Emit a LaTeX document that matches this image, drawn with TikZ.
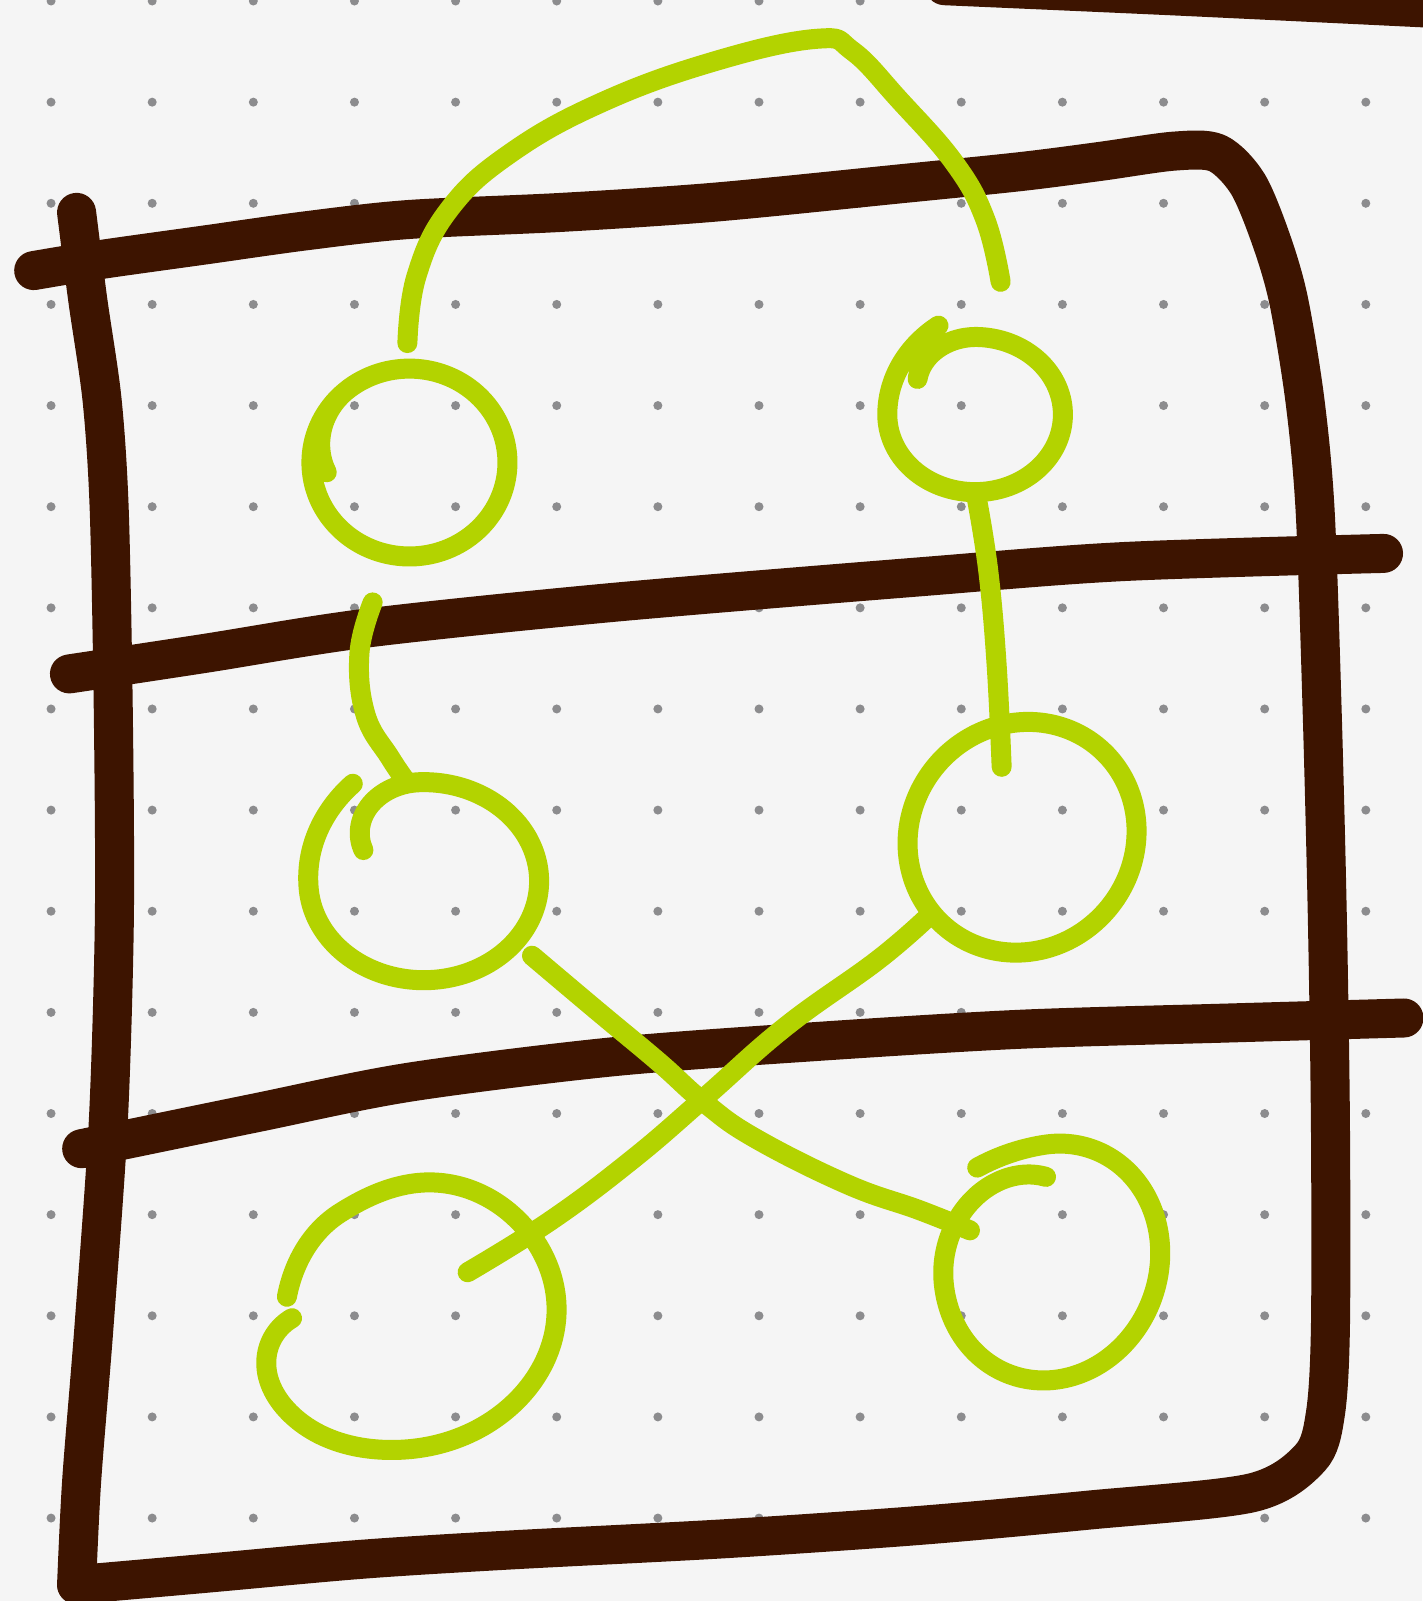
\documentclass[tikz,border=0pt]{standalone}
\usetikzlibrary{calc,hobby}
\definecolor{bgc}{HTML}{F5F5F5}
\definecolor{dotc}{HTML}{8C8C8E}
\definecolor{brn}{HTML}{3D1400}
\definecolor{grn}{HTML}{B3D300}
\tikzset{
  frame/.style={draw=brn, line width=39pt, line cap=round, line join=round},
  link/.style={draw=grn, line width=20pt, line cap=round, line join=round},
  ring/.style={draw=grn, line width=20pt, line cap=round, line join=round, smooth, variable=\t, samples=120}
}
\begin{document}
\begin{tikzpicture}[x=1.0208pt, y=-1.0208pt,
  declare function={
    sq(\x)=(max(0,min(1,\x)))^2;
    fa(\t)=1-0.15*sq((232-\t)/59);
    fb(\t)=1+0.22*sq((\t-180)/70)-0.2*sq((-88-\t)/57);
    fc(\t)=1-0.39*sq((268-\t)/57)+0.16*sq((\t-535)/63);
    ff(\t)=1+0.09*sq((262-\t)/35)-0.27*sq((\t-530)/90);
  }]
\fill[bgc] (0,0) rectangle (1393,1568);
\useasboundingbox (0,0) rectangle (1393,1568);
% dot grid
\foreach \i in {0,...,13}{
  \foreach \j in {0,...,15}{
    \fill[dotc] ({50+99.05*\i},{1+99.05*\j}) circle[radius=4.5pt];
  }
}
% brown frame
\draw[frame] plot[smooth, tension=0.5] coordinates {(925,-14) (1150,-4) (1400,8)};
\draw[frame] plot[smooth, tension=0.5] coordinates {
  (33,265) (100,254) (200,240) (300,226) (400,215) (550,208) (700,198)
  (882,180) (1000,168) (1078,158) (1150,148) (1192,150) (1222,180)
  (1245,235) (1262,294) (1278,392) (1288,500) (1295,700) (1300,900)
  (1303,1100) (1303,1300) (1298,1385) (1283,1428) (1226,1462)
  (1066,1479) (900,1494) (710,1507) (500,1518) (356,1527) (200,1541) (75,1552)};
\draw[frame] plot[smooth, tension=0.5] coordinates {
  (75,1552) (80,1450) (92,1300) (106,1100) (112,900) (111,700)
  (107,500) (100,392) (86,294) (75,208)};
\draw[frame] plot[smooth, tension=0.5] coordinates {
  (68,660) (200,640) (360,615) (600,590) (900,565) (1100,550) (1355,542)};
\draw[frame] plot[smooth, tension=0.5] coordinates {
  (80,1125) (250,1090) (400,1060) (600,1035) (800,1020) (1000,1008) (1200,1002) (1375,997)};
% green connectors
\draw[link] plot[smooth, tension=0.7] coordinates {
  (399,336) (408,270) (440,205) (500,150) (590,100) (700,60) (800,38)
  (835,50) (880,97) (935,160) (965,215) (980,276)};
\draw[link] plot[smooth, tension=0.7] coordinates {
  (365,590) (352,640) (358,700) (382,742) (399,767)};
\draw[link] plot[smooth, tension=0.7] coordinates {
  (957,490) (968,560) (976,650) (981,751)};
\draw[link] plot[smooth, tension=0.7] coordinates {
  (521,936) (585,990) (645,1040) (690,1080) (740,1115) (830,1160) (900,1185) (950,1205)};
\draw[link] plot[smooth, tension=0.7] coordinates {
  (912,895) (860,940) (770,1005) (690,1075) (620,1135) (540,1195) (458,1246)};
% green circles
\draw[ring] plot[domain=173:590] ({401+96*fa(\t)*cos(\t)}, {453+92*fa(\t)*sin(\t)});
\draw[ring] plot[domain=250:-145] ({955+86*fb(\t)*cos(\t)}, {406+76*fb(\t)*sin(\t)});
\draw[ring] plot[domain=211:598] ({415+113*fc(\t)*cos(\t)}, {863+97*fc(\t)*sin(\t)});
\draw[ring] plot[domain=0:360] ({1001+112*cos(\t)-6*sin(\t)}, {820+113*sin(\t)});
\draw[link, use Hobby shortcut] (281,1270) .. (333,1188) .. (421,1158) .. (512,1200)
  .. (545,1288) .. (497,1380) .. (378,1420) .. (283,1383) .. (261,1330) .. (286,1291);
\draw[ring] plot[domain=227:620] ({1030+106*ff(\t)*cos(\t)-8*sin(\t)}, {1236+116*ff(\t)*sin(\t)});
\end{tikzpicture}
\end{document}
